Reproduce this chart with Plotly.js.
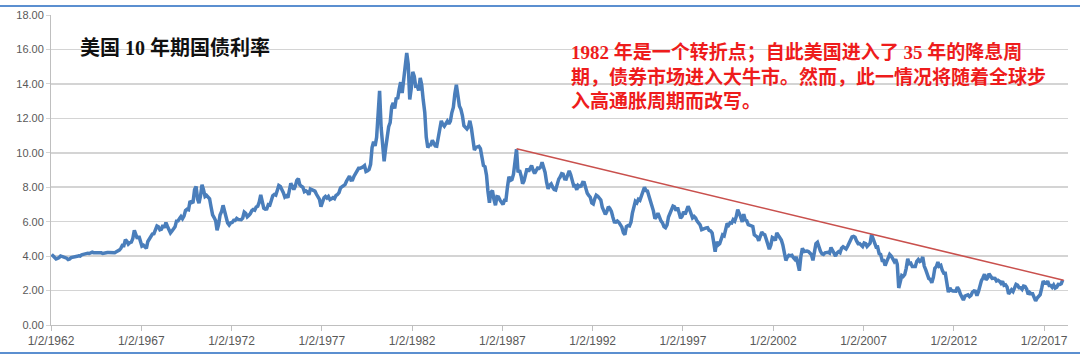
<!DOCTYPE html>
<html>
<head>
<meta charset="utf-8">
<script src="https://cdn.plot.ly/plotly-3.0.1.min.js"></script>
<style>
  html, body { margin: 0; padding: 0; background: #ffffff; }
  #wrap { position: relative; width: 1080px; height: 355px; overflow: hidden; }
  #chart { position: absolute; left: 0; top: 0; width: 1080px; height: 355px; }
  .rule { position: absolute; left: 0; width: 1080px; height: 2px; background: #5b8fd0; }
</style>
</head>
<body>
<div id="wrap">
  <div id="chart"></div>
  <div class="rule" style="top:5px;"></div>
  <div class="rule" style="top:352px;"></div>
</div>
<script>
// US 10-year Treasury yield (%), monthly readings, Jan of start year onward
const startYear1960s = 1962;
const yields1960s = [
  4.10, 4.02, 3.88, 3.84, 3.87, 3.91, 4.01, 3.98, 3.96, 3.93, 3.88, 3.80,
  3.83, 3.92, 3.93, 3.97, 3.93, 3.99, 4.02, 4.00, 4.08, 4.11, 4.12, 4.13,
  4.17, 4.15, 4.22, 4.23, 4.20, 4.17, 4.19, 4.19, 4.20, 4.19, 4.15, 4.18,
  4.19, 4.21, 4.21, 4.20, 4.21, 4.21, 4.20, 4.25, 4.29, 4.35, 4.45, 4.62,
  4.61, 4.95, 4.87, 4.70, 4.78, 4.81, 5.02, 5.50, 5.25, 5.01, 5.16, 4.80,
  4.58, 4.63, 4.50, 4.45, 4.85, 5.02, 5.16, 5.28, 5.30, 5.48, 5.75, 5.70,
  5.53, 5.56, 5.80, 5.64, 5.95, 5.72, 5.50, 5.35, 5.46, 5.58, 5.70, 6.03,
  6.04, 6.19, 6.30, 6.17, 6.32, 6.65, 6.72, 6.69, 7.20, 7.10, 7.14, 7.85
];
const startYear1970s = 1970;
const yields1970s = [
  8.05, 7.30, 7.07, 7.50, 8.15, 7.84, 7.46, 7.53, 7.39, 7.33, 6.84, 6.39,
  6.24, 6.05, 5.50, 5.83, 6.39, 6.60, 6.95, 6.58, 6.14, 5.93, 5.81, 5.93,
  5.95, 6.08, 6.07, 6.19, 6.13, 6.11, 6.11, 6.21, 6.55, 6.48, 6.28, 6.36,
  6.46, 6.64, 6.71, 6.67, 6.85, 6.90, 7.13, 7.55, 7.09, 6.79, 6.73, 6.74,
  6.99, 6.96, 7.21, 7.51, 7.58, 7.54, 7.81, 8.10, 8.04, 7.90, 7.68, 7.43,
  7.50, 7.39, 7.73, 8.23, 8.06, 7.86, 8.06, 8.40, 8.50, 8.14, 8.05, 8.00,
  7.74, 7.79, 7.73, 7.56, 7.90, 7.86, 7.83, 7.77, 7.59, 7.41, 7.29, 6.87,
  7.21, 7.39, 7.46, 7.37, 7.46, 7.28, 7.33, 7.40, 7.34, 7.52, 7.58, 7.69,
  7.96, 8.03, 8.04, 8.15, 8.35, 8.46, 8.64, 8.41, 8.42, 8.64, 8.81, 9.01,
  9.10, 9.10, 9.12, 9.18, 9.25, 8.91, 8.95, 9.03, 9.33, 10.30, 10.65, 10.39
];
const startYear1980s = 1980;
const yields1980s = [
  10.90, 12.60, 13.60, 11.47, 10.18, 9.50, 10.25, 11.10, 11.51, 11.75, 12.68, 12.90,
  12.57, 13.19, 13.12, 13.68, 14.10, 13.47, 14.28, 14.94, 15.80, 15.15, 13.10, 13.72,
  14.70, 14.43, 13.86, 13.87, 13.62, 14.35, 13.95, 13.06, 12.34, 10.91, 10.30, 10.45,
  10.46, 10.72, 10.51, 10.40, 10.38, 10.85, 11.38, 11.85, 11.65, 11.54, 11.69, 11.83,
  11.67, 11.84, 12.32, 12.63, 13.41, 13.95, 13.36, 12.72, 12.52, 12.16, 11.57, 11.50,
  11.38, 11.51, 11.86, 11.43, 10.85, 10.16, 10.31, 10.33, 10.37, 10.24, 9.78, 9.26,
  9.19, 8.70, 7.78, 7.10, 7.71, 7.80, 7.30, 6.95, 7.45, 7.43, 7.25, 7.11,
  7.00, 7.25, 7.25, 8.02, 8.61, 8.40, 8.45, 8.76, 9.42, 10.20, 8.86, 8.99,
  8.67, 8.21, 8.37, 8.72, 9.09, 8.92, 9.06, 9.26, 8.98, 8.80, 8.96, 9.11,
  9.09, 9.17, 9.45, 9.18, 8.86, 8.28, 7.90, 8.11, 8.19, 8.01, 7.87, 7.84
];
const startYear1990s = 1990;
const yields1990s = [
  8.21, 8.47, 8.59, 8.79, 8.76, 8.48, 8.47, 8.75, 8.95, 8.72, 8.39, 8.08,
  8.09, 7.85, 8.11, 8.04, 8.07, 8.28, 8.27, 7.90, 7.65, 7.53, 7.42, 7.09,
  7.03, 7.34, 7.54, 7.48, 7.39, 7.26, 6.84, 6.59, 6.42, 6.59, 6.87, 6.77,
  6.60, 6.26, 5.98, 5.97, 6.04, 5.96, 5.81, 5.68, 5.36, 5.25, 5.72, 5.77,
  5.75, 5.97, 6.48, 6.97, 7.18, 7.10, 7.30, 7.24, 7.46, 7.74, 8.00, 7.81,
  7.78, 7.47, 7.20, 7.06, 6.63, 6.17, 6.28, 6.49, 6.20, 6.04, 5.93, 5.71,
  5.65, 5.81, 6.27, 6.51, 6.74, 6.91, 6.87, 6.64, 6.83, 6.53, 6.20, 6.30,
  6.58, 6.42, 6.69, 6.89, 6.71, 6.49, 6.22, 6.30, 6.21, 6.03, 5.88, 5.81,
  5.54, 5.57, 5.65, 5.64, 5.65, 5.50, 5.46, 5.34, 4.81, 4.25, 4.83, 4.65,
  4.72, 5.00, 5.23, 5.18, 5.54, 5.90, 5.79, 5.94, 5.92, 6.11, 6.03, 6.28
];
const startYear2000s = 2000;
const yields2000s = [
  6.70, 6.52, 6.26, 5.99, 6.44, 6.10, 6.05, 5.83, 5.80, 5.74, 5.72, 5.24,
  5.16, 5.10, 4.89, 5.14, 5.39, 5.28, 5.24, 4.97, 4.73, 4.40, 4.65, 5.09,
  5.04, 4.91, 5.35, 5.21, 5.16, 4.93, 4.65, 4.26, 3.75, 3.94, 4.05, 4.03,
  4.05, 3.90, 3.81, 3.96, 3.57, 3.15, 3.98, 4.45, 4.27, 4.29, 4.30, 4.27,
  4.15, 4.08, 3.75, 4.35, 4.72, 4.80, 4.50, 4.28, 4.13, 4.10, 4.19, 4.23,
  4.22, 4.17, 4.50, 4.34, 4.14, 4.00, 4.18, 4.26, 4.20, 4.46, 4.54, 4.47,
  4.42, 4.57, 4.72, 4.99, 5.11, 5.14, 5.09, 4.88, 4.72, 4.73, 4.60, 4.56,
  4.76, 4.72, 4.56, 4.69, 4.75, 5.25, 5.00, 4.67, 4.52, 4.53, 4.15, 4.10,
  3.74, 3.74, 3.45, 3.68, 3.88, 4.10, 4.01, 3.89, 3.69, 3.81, 3.53, 2.15,
  2.52, 2.87, 2.82, 2.93, 3.29, 3.85, 3.56, 3.59, 3.40, 3.39, 3.40, 3.70
];
const startYear2010s = 2010;
const yields2010s = [
  3.80, 3.69, 3.73, 3.95, 3.42, 3.20, 3.01, 2.70, 2.65, 2.45, 2.76, 3.29,
  3.39, 3.65, 3.41, 3.46, 3.17, 3.00, 3.00, 2.30, 1.90, 2.15, 2.01, 1.98,
  1.97, 1.97, 2.20, 2.05, 1.80, 1.62, 1.45, 1.68, 1.72, 1.75, 1.65, 1.72,
  1.91, 1.98, 1.96, 1.70, 1.93, 2.30, 2.58, 2.74, 2.95, 2.62, 2.72, 2.97,
  2.86, 2.71, 2.72, 2.71, 2.56, 2.60, 2.54, 2.42, 2.53, 2.30, 2.33, 2.21,
  1.80, 1.98, 2.04, 1.94, 2.20, 2.36, 2.32, 2.17, 2.17, 2.07, 2.26, 2.24,
  2.09, 1.78, 1.89, 1.81, 1.81, 1.64, 1.40, 1.56, 1.63, 1.76, 2.14, 2.55,
  2.43, 2.42, 2.55, 2.30, 2.30, 2.19, 2.32, 2.15, 2.20, 2.36, 2.35, 2.40,
  2.62
];

// Down-trend line drawn on the chart (1987 high to 2018)
const trendDates = ['1987-10-16', '2018-02-01'];
const trendValues = [10.23, 2.60];

// Axis ticks
const xTickDates = ['1962-01-02','1967-01-02','1972-01-02','1977-01-02','1982-01-02','1987-01-02',
                    '1992-01-02','1997-01-02','2002-01-02','2007-01-02','2012-01-02','2017-01-02'];
const xTickLabels = ['1/2/1962','1/2/1967','1/2/1972','1/2/1977','1/2/1982','1/2/1987',
                     '1/2/1992','1/2/1997','1/2/2002','1/2/2007','1/2/2012','1/2/2017'];

const chartTitle = '美国 10 年期国债利率';
const noteText = '1982 年是一个转折点；自此美国进入了 35 年的降息周<br>期，债券市场进入大牛市。然而，此一情况将随着全球步<br>入高通胀周期而改写。';

function monthlyDates(startYear, n) {
  const out = [];
  for (let i = 0; i < n; i++) {
    const y = startYear + Math.floor(i / 12);
    const m = (i % 12) + 1;
    out.push(y + '-' + (m < 10 ? '0' + m : m) + '-15');
  }
  return out;
}

const blocks = [
  [startYear1960s, yields1960s], [startYear1970s, yields1970s], [startYear1980s, yields1980s],
  [startYear1990s, yields1990s], [startYear2000s, yields2000s], [startYear2010s, yields2010s]
];
let xs = [], ys = [];
blocks.forEach(([sy, arr]) => {
  xs = xs.concat(monthlyDates(sy, arr.length));
  ys = ys.concat(arr);
});

const data = [
  {
    x: xs, y: ys, type: 'scatter', mode: 'lines',
    line: { color: '#4a7ebb', width: 3.5 },
    hoverinfo: 'skip', showlegend: false
  },
  {
    x: trendDates, y: trendValues, type: 'scatter', mode: 'lines',
    line: { color: '#c9504d', width: 1.6 },
    hoverinfo: 'skip', showlegend: false
  }
];

const layout = {
  width: 1080, height: 355,
  margin: { l: 51, r: 12, t: 15, b: 30 },
  paper_bgcolor: 'rgba(0,0,0,0)',
  plot_bgcolor: '#ffffff',
  showlegend: false,
  xaxis: {
    type: 'date',
    range: ['1962-01-02', '2018-05-01'],
    tickmode: 'array',
    tickvals: xTickDates,
    ticktext: xTickLabels,
    showgrid: false,
    zeroline: false,
    showline: true, linecolor: '#bfbfbf', linewidth: 1,
    ticks: 'outside', ticklen: 5, tickcolor: '#bfbfbf',
    tickfont: { family: 'Liberation Sans, Arial, sans-serif', size: 12, color: '#595959' }
  },
  yaxis: {
    range: [0, 18],
    dtick: 2, tick0: 0,
    tickformat: '.2f',
    showgrid: true, gridcolor: '#d4d4d4', gridwidth: 1.5,
    zeroline: false,
    showline: true, linecolor: '#bfbfbf', linewidth: 1,
    ticks: 'outside', ticklen: 4, tickcolor: '#d4d4d4',
    tickfont: { family: 'Liberation Sans, Arial, sans-serif', size: 11, color: '#595959' }
  },
  annotations: [
    {
      text: '<b>' + chartTitle + '</b>',
      xref: 'paper', yref: 'paper',
      x: 0.0265, y: 0.8935, xanchor: 'left', yanchor: 'middle',
      showarrow: false,
      font: { family: 'Liberation Serif, Noto Sans CJK SC, serif', size: 20, color: '#111111' }
    },
    {
      text: '<b>' + noteText + '</b>',
      xref: 'paper', yref: 'paper',
      x: 0.509, y: 0.8026, xanchor: 'left', yanchor: 'middle',
      align: 'left', showarrow: false,
      font: { family: 'Liberation Serif, Noto Sans CJK SC, serif', size: 19, color: '#ee1c1c' }
    }
  ]
};

Plotly.newPlot('chart', data, layout, { displayModeBar: false, staticPlot: true });
</script>
</body>
</html>
